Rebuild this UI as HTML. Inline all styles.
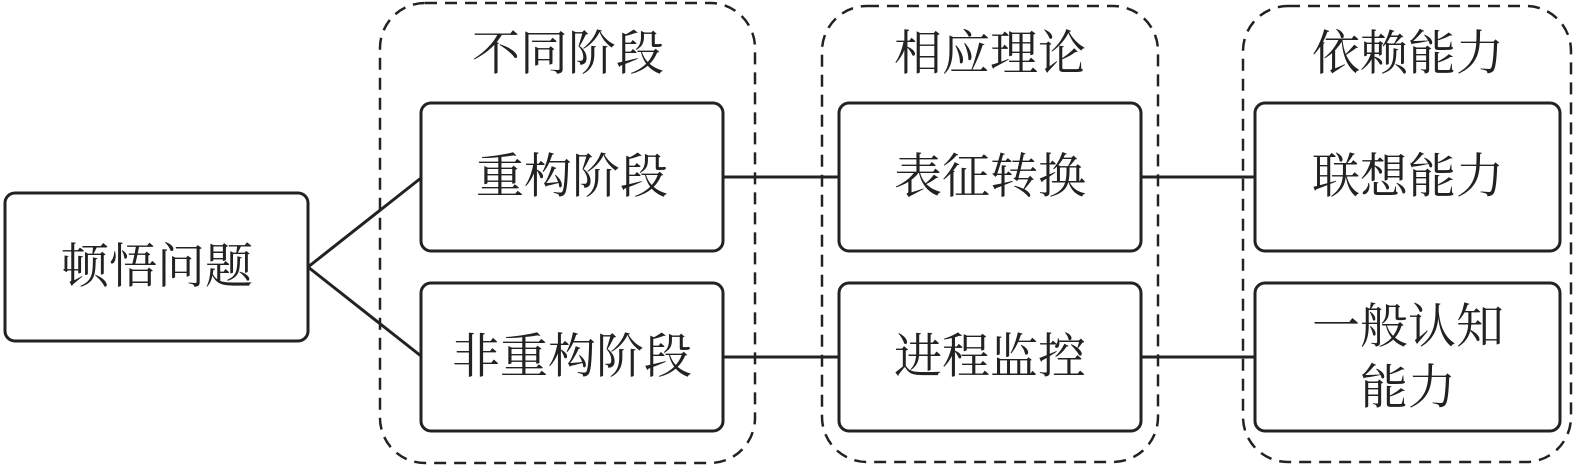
<!DOCTYPE html>
<html><head><meta charset="utf-8"><style>
html,body{margin:0;padding:0;background:#fff;width:1575px;height:468px;overflow:hidden}
svg text{font-family:"Liberation Serif","Noto Serif CJK SC",serif;font-size:48px;fill:#222;text-anchor:middle;dominant-baseline:central}
</style></head><body>
<svg width="1575" height="468" viewBox="0 0 1575 468" xmlns="http://www.w3.org/2000/svg">
<g fill="none" stroke="#222" stroke-width="2.5" stroke-dasharray="12,8">
<rect x="380" y="3" width="375" height="460" rx="45"/>
<rect x="822" y="6" width="336" height="456" rx="45"/>
<rect x="1243" y="6" width="328" height="456" rx="45"/>
</g>
<g fill="none" stroke="#222" stroke-width="3">
<line x1="308" y1="267" x2="421" y2="178"/>
<line x1="308" y1="267" x2="421" y2="356"/>
<line x1="724" y1="177" x2="839" y2="177"/>
<line x1="724" y1="357" x2="839" y2="357"/>
<line x1="1142" y1="177" x2="1255" y2="177"/>
<line x1="1142" y1="357" x2="1255" y2="357"/>
</g>
<g fill="#fff" stroke="#222" stroke-width="3">
<rect x="5" y="193" width="303" height="148" rx="10"/>
<rect x="421" y="103" width="302" height="148" rx="10"/>
<rect x="421" y="283" width="302" height="148" rx="10"/>
<rect x="839" y="103" width="302" height="148" rx="10"/>
<rect x="839" y="283" width="302" height="148" rx="10"/>
<rect x="1255" y="103" width="305" height="148" rx="10"/>
<rect x="1255" y="283" width="305" height="148" rx="10"/>
</g>
<text x="157" y="267">顿悟问题</text>
<text x="568" y="54">不同阶段</text>
<text x="572" y="177">重构阶段</text>
<text x="572" y="357">非重构阶段</text>
<text x="990" y="54">相应理论</text>
<text x="990" y="177">表征转换</text>
<text x="990" y="357">进程监控</text>
<text x="1408" y="54">依赖能力</text>
<text x="1408" y="177">联想能力</text>
<text x="1408" y="327">一般认知</text>
<text x="1408" y="388">能力</text>
</svg>
</body></html>
